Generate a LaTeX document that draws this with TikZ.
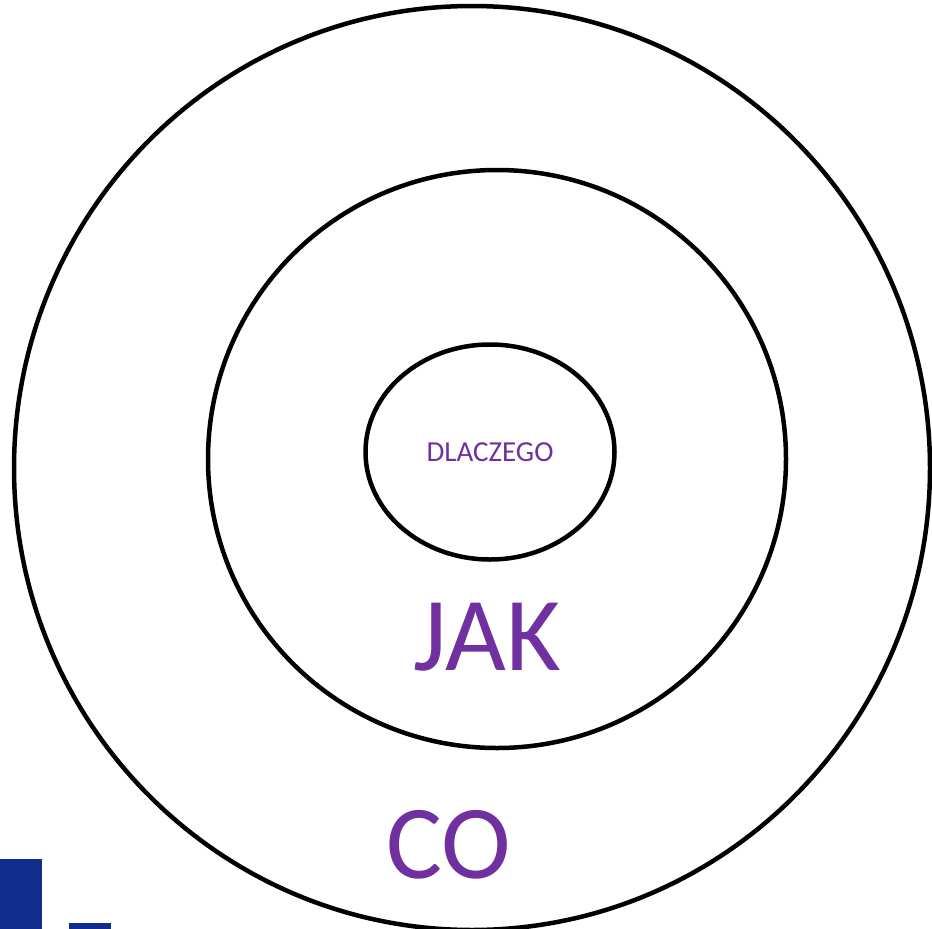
\documentclass[tikz,border=0pt]{standalone}
\usepackage{fontspec}
\setmainfont{Carlito}
\usepackage{tikz}
\usetikzlibrary{positioning, shapes.geometric}
\definecolor{TextPurple}{RGB}{112, 48, 160}
\definecolor{BarBlue}{RGB}{17, 45, 140}

\begin{document}
\begin{tikzpicture}[x=1pt, y=-1pt,
		ring/.style={draw=black, line width=4.5pt},
		word/.style={text=TextPurple, inner sep=0pt}]
		\useasboundingbox (0,0) rectangle (932,929);
		\begin{scope}
			\clip (0,0) rectangle (932,929);
			\draw[ring] (472,468) ellipse [x radius=458, y radius=462];
			\fill[BarBlue] (0,859) rectangle (42,929);
			\fill[BarBlue] (69,923) rectangle (111,929);
		\end{scope}
		\draw[ring] (497,459) circle [radius=289];
		\node[ring, ellipse, minimum width=249, minimum height=215, inner sep=0pt] (why) at (490,452) {};
		\node[word, font=\fontsize{29}{29}\selectfont] (whylabel) at (why.center) {DLACZEGO};
		\node[word, font=\fontsize{105}{105}\selectfont, anchor=base] (how) at (487,670) {JAK};
		\node[word, font=\fontsize{105}{105}\selectfont, anchor=base] (what) at (449,878) {CO};
	\end{tikzpicture}
\end{document}
